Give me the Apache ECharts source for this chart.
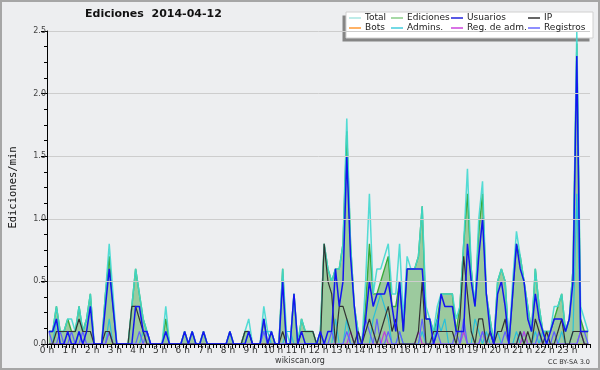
<!DOCTYPE html>
<html><head><meta charset="utf-8">
<script src="https://cdn.jsdelivr.net/npm/echarts@6/dist/echarts.min.js"></script>
<style>html,body{margin:0;padding:0;background:#edeef0}#c{width:600px;height:370px}</style>
</head><body><div id="c"></div>
<script>
// 10-minute slots, 144 per day (values = edits per minute)
const hourLabels = ['0 h','1 h','2 h','3 h','4 h','5 h','6 h','7 h','8 h','9 h','10 h','11 h','12 h','13 h','14 h','15 h','16 h','17 h','18 h','19 h','20 h','21 h','22 h','23 h'];
const yTicks = [0, 0.5, 1, 1.5, 2, 2.5];

const total = [
 0.1,0.1,0.3,0.1,0.1,0.2, 0.2,0.1,0.3,0.1,0.2,0.4,
 0,0,0,0.4,0.8,0.4, 0,0,0,0,0.3,0.6,
 0.4,0.2,0.1,0,0,0, 0,0.3,0,0,0,0,
 0.1,0,0.1,0,0,0.1, 0,0,0,0,0,0,
 0.1,0,0,0,0.1,0.2, 0,0,0,0.3,0.1,0.1,
 0,0,0.6,0.1,0,0.4, 0,0.2,0.1,0.1,0.1,0,
 0.1,0.8,0.6,0.5,0.6,0.6, 0.8,1.8,0.8,0.3,0.1,0,
 0.5,1.2,0.4,0.6,0.6,0.7, 0.8,0.4,0.4,0.8,0.2,0.7,
 0.6,0.6,0.7,1.1,0.3,0.2, 0.1,0.3,0.4,0.4,0.4,0.4,
 0.2,0.3,0.8,1.4,0.6,0.3, 1.0,1.3,0.4,0.2,0,0.5,
 0.6,0.5,0,0.5,0.9,0.7, 0.5,0.3,0.1,0.6,0.3,0.1,
 0.1,0.1,0.3,0.3,0.4,0.1, 0.2,0.6,2.5,0.3,0.2,0.1];

const ediciones = [
 0.1,0.1,0.3,0.1,0.1,0.2, 0.1,0.1,0.3,0.1,0.2,0.4,
 0,0,0,0.4,0.7,0.3, 0,0,0,0,0.3,0.6,
 0.4,0.2,0.1,0,0,0, 0,0.2,0,0,0,0,
 0.1,0,0.1,0,0,0.1, 0,0,0,0,0,0,
 0.1,0,0,0,0.1,0.1, 0,0,0,0.2,0,0.1,
 0,0,0.6,0,0,0.4, 0,0.2,0.1,0.1,0.1,0,
 0.1,0.8,0.6,0.5,0.6,0.6, 0.8,1.7,0.8,0.3,0.1,0,
 0.3,0.8,0.4,0.4,0.5,0.6, 0.7,0.3,0.3,0.5,0.1,0.6,
 0.6,0.6,0.7,1.1,0.2,0.2, 0.1,0.2,0.4,0.4,0.4,0.4,
 0.1,0.3,0.8,1.2,0.6,0.3, 0.9,1.2,0.4,0.2,0,0.5,
 0.6,0.5,0,0.4,0.8,0.7, 0.5,0.3,0.1,0.6,0.3,0.1,
 0.1,0.1,0.2,0.3,0.4,0.1, 0.2,0.6,2.4,0.2,0.1,0.1];

const usuarios = [
 0.1,0.1,0.2,0,0,0.1, 0,0,0.1,0,0.1,0.3,
 0,0,0,0.3,0.6,0.3, 0,0,0,0,0,0.3,
 0.3,0.1,0.1,0,0,0, 0,0.1,0,0,0,0,
 0.1,0,0.1,0,0,0.1, 0,0,0,0,0,0,
 0.1,0,0,0,0,0.1, 0,0,0,0.2,0,0.1,
 0,0,0.5,0,0,0.4, 0,0.1,0,0,0,0,
 0.1,0,0.1,0.1,0.6,0.3, 0.5,1.5,0.7,0.3,0,0,
 0.2,0.5,0.3,0.4,0.4,0.4, 0.5,0.3,0.1,0.5,0.1,0.6,
 0.6,0.6,0.6,0.6,0.2,0.2, 0,0.1,0.4,0.3,0.3,0.3,
 0.1,0.1,0.1,0.8,0.5,0.3, 0.7,1.0,0.4,0.1,0,0.4,
 0.5,0.3,0,0.4,0.8,0.6, 0.5,0.2,0.1,0.4,0.2,0.1,
 0,0.1,0.2,0.2,0.2,0.1, 0.2,0.5,2.3,0.1,0.1,0.1];

const ip = [
 0,0,0.1,0.1,0.1,0.1, 0.1,0.1,0.2,0.1,0.1,0.1,
 0,0,0,0.1,0.1,0, 0,0,0,0,0.3,0.3,
 0.2,0.1,0,0,0,0, 0,0,0,0,0,0,
 0,0,0,0,0,0, 0,0,0,0,0,0,
 0,0,0,0,0.1,0.1, 0,0,0,0,0,0,
 0,0,0.1,0,0,0, 0,0.1,0.1,0.1,0.1,0,
 0,0.8,0.5,0.4,0,0.3, 0.3,0.2,0.1,0,0.1,0,
 0.1,0.2,0.1,0,0.1,0.2, 0.3,0.1,0.2,0,0,0,
 0,0,0.1,0.5,0,0, 0.1,0.1,0.1,0.1,0.1,0.1,
 0,0.2,0.7,0.4,0.1,0, 0.2,0.2,0,0.1,0,0.1,
 0.1,0.2,0,0,0,0.1, 0,0.1,0,0.2,0.1,0,
 0.1,0,0,0.1,0.2,0, 0,0.1,0.1,0.1,0,0];

const bots = [
 0,0,0,0,0,0, 0,0,0,0,0,0,
 0,0,0,0,0,0, 0,0,0,0,0,0,
 0,0,0,0,0,0, 0,0,0,0,0,0,
 0,0,0,0,0,0, 0,0,0,0,0,0,
 0,0,0,0,0,0, 0,0,0,0,0,0,
 0,0,0,0,0,0, 0,0,0,0,0,0,
 0,0,0,0,0,0, 0,0,0,0,0,0,
 0,0,0,0,0,0, 0,0,0,0,0,0,
 0,0,0,0,0,0, 0,0,0,0,0,0,
 0,0,0,0,0,0, 0,0,0,0,0,0,
 0,0,0,0,0,0, 0,0,0,0,0,0,
 0,0,0,0,0,0, 0,0,0,0,0,0];

const admins = [
 0,0,0.2,0,0,0, 0,0,0.1,0,0,0,
 0,0,0,0,0.2,0, 0,0,0,0,0,0,
 0,0.1,0,0,0,0, 0,0.1,0,0,0,0,
 0,0,0,0,0,0, 0,0,0,0,0,0,
 0,0,0,0,0,0.1, 0,0,0,0.1,0.1,0,
 0,0,0,0.1,0.1,0, 0,0,0,0,0,0,
 0,0,0,0,0.2,0, 0,0.2,0,0,0,0,
 0,0,0.2,0.3,0.4,0.3, 0.2,0,0,0.1,0,0,
 0,0,0,0.1,0,0, 0,0.2,0.1,0.2,0,0,
 0,0,0.1,0,0,0.2, 0.1,0,0.1,0,0,0.1,
 0,0,0,0,0.1,0, 0.1,0,0,0.1,0,0.1,
 0,0,0,0,0.1,0, 0,0.1,1.2,0.1,0,0];

const regAdm = [
 0,0,0,0,0,0, 0,0,0,0,0,0,
 0,0,0,0,0.1,0, 0,0,0,0,0,0,
 0,0,0,0,0,0, 0,0,0,0,0,0,
 0,0,0,0,0,0, 0,0,0,0,0,0,
 0,0,0,0,0,0, 0,0,0,0,0,0,
 0,0,0,0,0,0, 0,0,0,0,0,0,
 0,0,0,0,0,0, 0,0,0.1,0,0,0,
 0,0,0,0,0,0.1, 0,0,0,0,0,0,
 0,0,0.1,0,0,0, 0,0,0,0,0,0,
 0,0,0.1,0,0,0, 0,0.1,0,0,0,0,
 0,0,0,0,0,0, 0.1,0,0,0,0,0,
 0,0,0,0,0,0, 0,0,0,0.1,0,0];

const registros = [
 0.1,0,0,0.1,0,0, 0.1,0,0,0.1,0,0,
 0,0,0,0,0.1,0, 0,0,0,0,0,0,
 0.1,0,0.1,0,0,0, 0,0,0,0,0,0,
 0,0,0,0,0,0, 0,0,0,0,0,0,
 0,0,0,0,0,0, 0,0,0,0.1,0,0,
 0,0,0,0,0,0, 0,0,0,0,0,0,
 0,0,0,0.1,0,0, 0,0.1,0,0,0.1,0,
 0.2,0.1,0,0.2,0,0, 0.1,0,0,0.1,0,0,
 0,0,0,0.2,0,0, 0,0.1,0,0,0,0,
 0.1,0,0.2,0,0,0, 0,0.1,0,0.1,0,0,
 0,0.1,0,0,0,0.1, 0,0,0,0,0.1,0,
 0,0,0.1,0,0,0, 0,0,0,0.1,0.1,0];

const SLOT_MIN = 10;
const toPts = arr => arr.map((v, i) => [(i * SLOT_MIN + SLOT_MIN / 2) / 60, v]);

function line(name, arr, color, width, extra) {
  return Object.assign({
    name, type: 'line', data: toPts(arr), symbol: 'none', showSymbol: false,
    lineStyle: { color, width }, itemStyle: { color }, emphasis: { disabled: true }
  }, extra || {});
}

// legend layout: 4 columns x 2 rows
const legendCols = [[ 'Total', 'Bots' ], [ 'Ediciones', 'Admins.' ], [ 'Usuarios', 'Reg. de adm.' ], [ 'IP', 'Registros' ]];
const legendColors = { 'Total': '#a8e6e2', 'Bots': '#ff9933', 'Ediciones': '#88cc88', 'Admins.': '#44ccdd',
  'Usuarios': '#2222dd', 'Reg. de adm.': '#cc44dd', 'IP': '#333333', 'Registros': '#6a6aff' };
const colLeft = [349, 391, 451, 528];
const rowTop = [13.5, 23.5];
const legends = [];
legendCols.forEach((col, c) => col.forEach((nm, r) => {
  legends.push({
    left: colLeft[c], top: rowTop[r], padding: 0, itemWidth: 12, itemHeight: 1.5, z: 6,
    selectedMode: false, icon: 'rect',
    data: [{ name: nm, itemStyle: { color: legendColors[nm] } }],
    textStyle: { fontSize: 9, fontFamily: 'DejaVu Sans', color: '#222', padding: [0, 0, 0, -1] }
  });
}));

const chart = echarts.init(document.getElementById('c'), null, { renderer: 'canvas' });
chart.setOption({
  animation: false,
  backgroundColor: '#edeef0',
  title: {
    text: 'Ediciones  2014-04-12', left: 85, top: 9, padding: 0,
    textStyle: { fontFamily: 'DejaVu Sans', fontWeight: 'bold', fontSize: 11, color: '#111' }
  },
  grid: { left: 45, right: 10, top: 31, bottom: 26 },
  xAxis: {
    type: 'value', min: 0, max: 24, interval: 1, z: 5,
    axisLine: { lineStyle: { color: '#000', width: 1 } },
    axisTick: { length: 4, lineStyle: { color: '#000' } },
    minorTick: { show: true, splitNumber: 6, length: 4, lineStyle: { color: '#000' } },
    axisLabel: { margin: 2, fontSize: 9, color: '#333', fontFamily: 'DejaVu Sans',
      formatter: v => hourLabels[v] || '', showMaxLabel: false },
    splitLine: { show: false }
  },
  yAxis: {
    type: 'value', min: yTicks[0], max: yTicks[yTicks.length - 1], interval: 0.5, z: 5,
    name: 'Ediciones/min', nameLocation: 'middle', nameGap: 28,
    nameTextStyle: { fontFamily: 'DejaVu Sans Mono', fontSize: 10.5, color: '#111' },
    axisLine: { show: true, lineStyle: { color: '#000' } },
    axisTick: { show: true, length: 6, lineStyle: { color: '#000' } },
    minorTick: { show: true, splitNumber: 4, length: 3, lineStyle: { color: '#000' } },
    axisLabel: { margin: 1, fontSize: 8, color: '#444', fontFamily: 'DejaVu Sans', formatter: v => v.toFixed(1) },
    splitLine: { lineStyle: { color: '#cdcdcd', width: 1 } }
  },
  legend: legends,
  graphic: [
    { type: 'rect', z: 1, shape: { x: 342.5, y: 15.5, width: 247, height: 26 }, style: { fill: '#858585' } },
    { type: 'rect', z: 1, shape: { x: 346, y: 12, width: 247, height: 26 }, style: { fill: '#ffffff', stroke: '#d0d0d0', lineWidth: 1 } },
    { type: 'text', z: 1, x: 300, y: 361, style: { text: 'wikiscan.org', fontSize: 8, fontFamily: 'DejaVu Sans', fill: '#333', align: 'center', verticalAlign: 'middle' } },
    { type: 'text', z: 1, x: 590, y: 362, style: { text: 'CC BY-SA 3.0', fontSize: 6.5, fontFamily: 'DejaVu Sans', fill: '#333', align: 'right', verticalAlign: 'middle' } },
    { type: 'rect', z: 10, shape: { x: 1, y: 1, width: 598, height: 368 }, style: { fill: 'none', stroke: '#a6a6a6', lineWidth: 2 } }
  ],
  series: [
    line('Ediciones', ediciones, '#3aaa3a', 1.4, { areaStyle: { color: '#3a9e3a', opacity: 0.45 } }),
    line('Total', total, 'rgba(64,216,208,0.9)', 1.5),
    line('Admins.', admins, '#2cc0d8', 1.2),
    line('Reg. de adm.', regAdm, '#c040d8', 1.2),
    line('Registros', registros, '#6060ff', 1.2),
    line('IP', ip, '#333333', 1.2),
    line('Usuarios', usuarios, '#1414f0', 1.5),
    line('Bots', bots, '#ff9933', 1, { z: 1 })
  ]
});
</script></body></html>
